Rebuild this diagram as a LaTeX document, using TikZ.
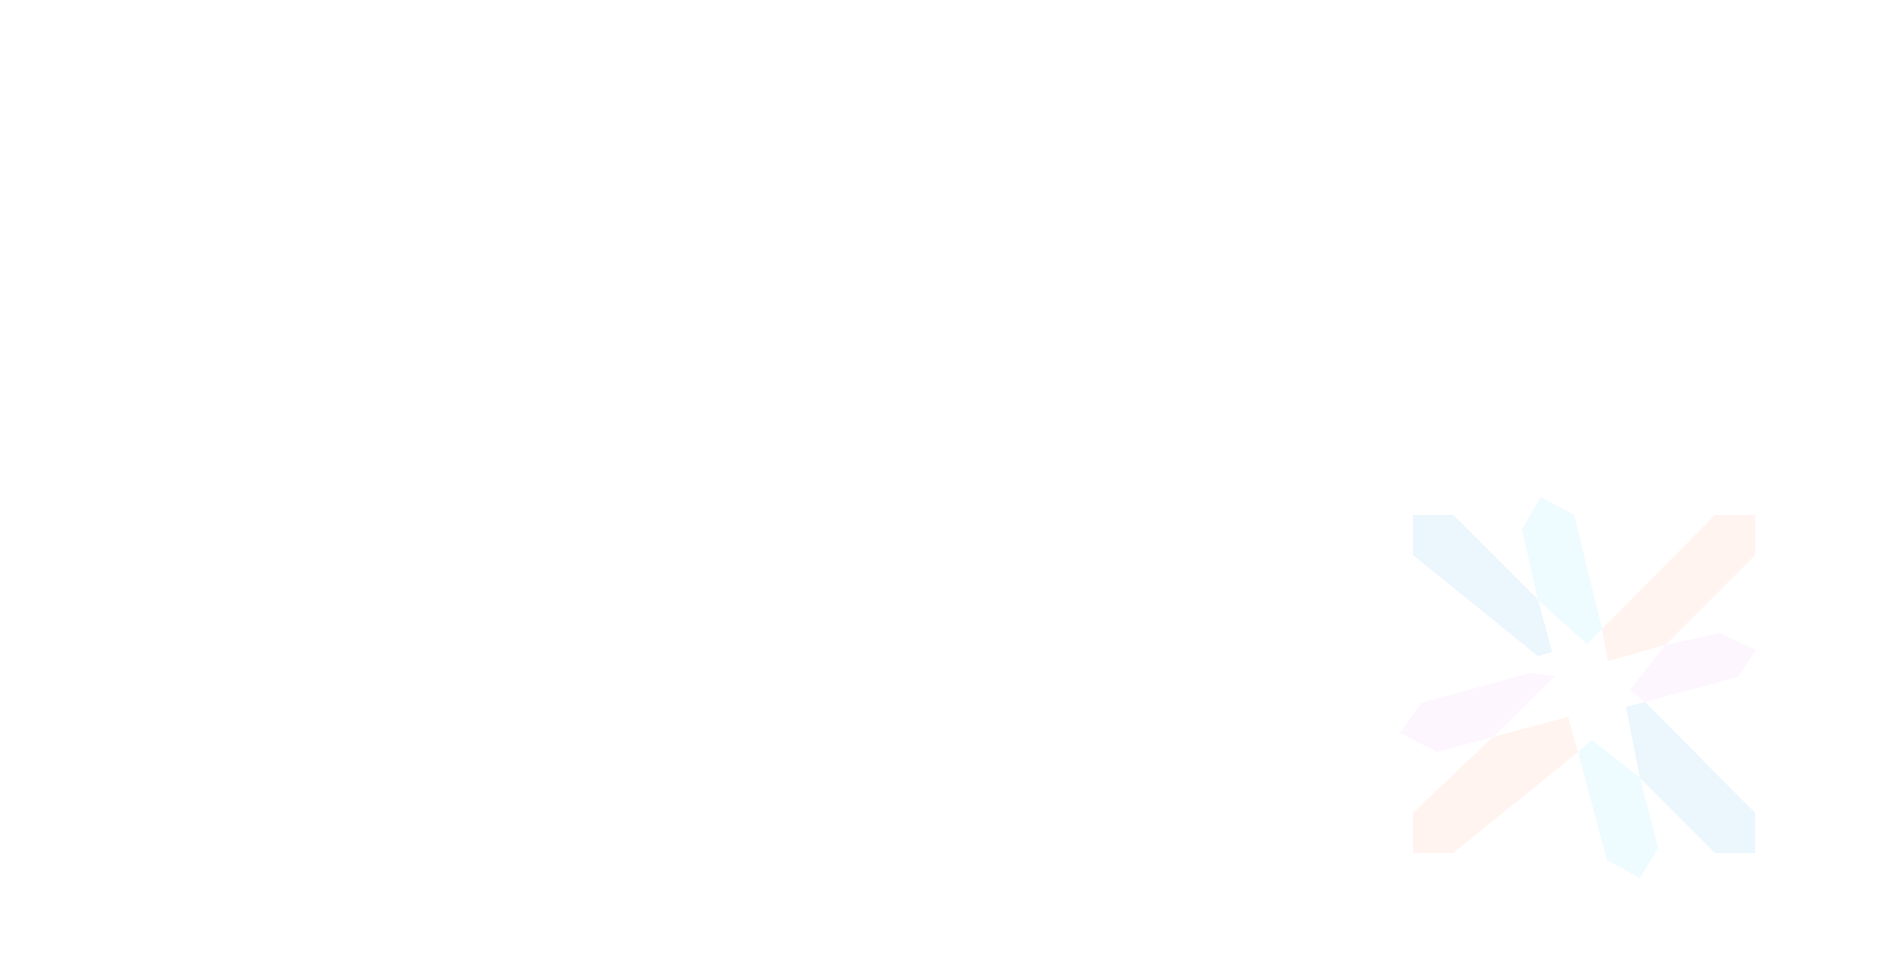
\documentclass[tikz,border=0pt]{standalone}
\definecolor{petalblue}{HTML}{EBF6FD}
\definecolor{petalcyan}{HTML}{EEFBFF}
\definecolor{petalorange}{HTML}{FFF4F0}
\definecolor{petalpink}{HTML}{FEF6FF}
\begin{document}
\begin{tikzpicture}[x=0.01cm,y=-0.01cm]
            \useasboundingbox (0,0) rectangle (1902,954);

            % blue petals
            \fill[petalblue] (1413,515) -- (1453,515) -- (1538,600) -- (1552,652) -- (1538,656) -- (1413,555) -- cycle;
            \fill[petalblue] (1645,702) -- (1755,813) -- (1755,853) -- (1715,853) -- (1640,778) -- (1626,707) -- cycle;

            % cyan petals
            \fill[petalcyan] (1522,529) -- (1541,497) -- (1574,515) -- (1602,629) -- (1587,644) -- (1538,600) -- cycle;
            \fill[petalcyan] (1640,778) -- (1658,848) -- (1640,878) -- (1607,860) -- (1578,752) -- (1592,740) -- cycle;

            % orange petals
            \fill[petalorange] (1602,629) -- (1715,515) -- (1755,515) -- (1755,555) -- (1665,645) -- (1608,661) -- cycle;
            \fill[petalorange] (1413,813) -- (1493,737) -- (1568,717) -- (1578,752) -- (1453,853) -- (1413,853) -- cycle;

            % pink petals
            \fill[petalpink] (1665,645) -- (1720,633) -- (1756,650) -- (1738,677) -- (1645,702) -- (1630,690) -- cycle;
            \fill[petalpink] (1421,703) -- (1530,673) -- (1555,676) -- (1493,737) -- (1437,752) -- (1400,733) -- cycle;
        \end{tikzpicture}
\end{document}
